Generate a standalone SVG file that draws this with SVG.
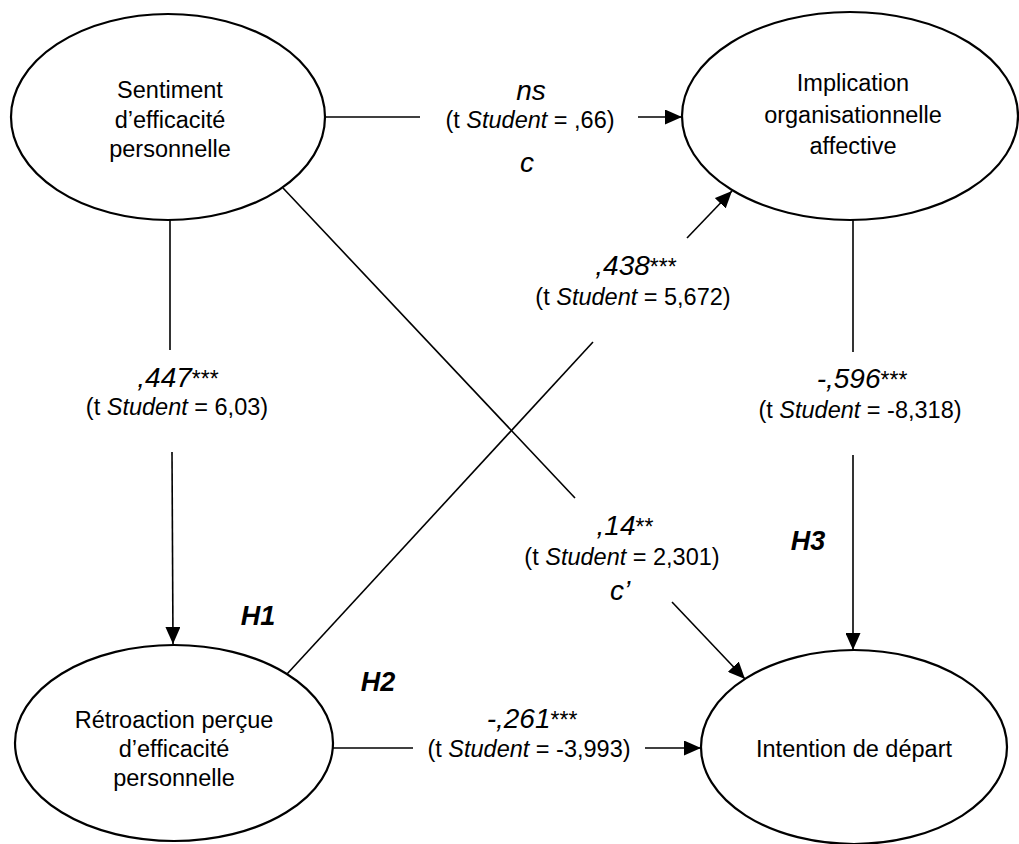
<svg xmlns="http://www.w3.org/2000/svg" width="1019" height="844" viewBox="0 0 1019 844">
<style>
.node{fill:#fff;stroke:#000;stroke-width:2.2}
.edge{fill:none;stroke:#000;stroke-width:1.6}
text{font-family:"Liberation Sans",Arial,sans-serif;fill:#000;text-anchor:middle}
.nt{font-size:23.5px}
.st{font-size:23.5px}
.val{font-size:28px;font-style:italic}
.stars{font-size:23px;font-style:normal}
.hyp{font-size:27px;font-weight:bold;font-style:italic}
</style>
<defs>
<marker id="arr" markerUnits="userSpaceOnUse" markerWidth="17" markerHeight="15" refX="17" refY="7.5" orient="auto">
<path d="M0,0 L17,7.5 L0,15 z" fill="#000"/>
</marker>
</defs>
<rect width="1019" height="844" fill="#fff"/>
<g id="connectors">
<line class="edge" x1="325" y1="117" x2="420" y2="117"/>
<line class="edge" x1="638" y1="117" x2="682" y2="117" marker-end="url(#arr)"/>
<line class="edge" x1="170" y1="220" x2="170" y2="350"/>
<line class="edge" x1="172" y1="452" x2="173" y2="644" marker-end="url(#arr)"/>
<line class="edge" x1="283" y1="188" x2="575" y2="498"/>
<line class="edge" x1="672" y1="602" x2="745" y2="679" marker-end="url(#arr)"/>
<line class="edge" x1="287" y1="674" x2="593" y2="342"/>
<line class="edge" x1="687" y1="238" x2="732" y2="191" marker-end="url(#arr)"/>
<line class="edge" x1="853" y1="220" x2="853" y2="352"/>
<line class="edge" x1="853" y1="455" x2="853" y2="650" marker-end="url(#arr)"/>
<line class="edge" x1="333" y1="748" x2="413" y2="748"/>
<line class="edge" x1="645" y1="748" x2="701" y2="748" marker-end="url(#arr)"/>
</g>
<g id="node-sentiment">
<ellipse class="node" cx="168" cy="117" rx="157" ry="103"/>
<text class="nt" x="170" y="98">Sentiment</text>
<text class="nt" x="170" y="128">d’efficacité</text>
<text class="nt" x="170" y="157">personnelle</text>
</g>
<g id="node-implication">
<ellipse class="node" cx="850" cy="116" rx="168" ry="104"/>
<text class="nt" x="853" y="91">Implication</text>
<text class="nt" x="853" y="123">organisationnelle</text>
<text class="nt" x="853" y="154">affective</text>
</g>
<g id="node-retroaction">
<ellipse class="node" cx="174" cy="743" rx="159" ry="98"/>
<text class="nt" x="174" y="728">Rétroaction perçue</text>
<text class="nt" x="174" y="757">d’efficacité</text>
<text class="nt" x="174" y="786">personnelle</text>
</g>
<g id="node-intention">
<ellipse class="node" cx="854" cy="747" rx="153" ry="97"/>
<text class="nt" x="854" y="757">Intention de départ</text>
</g>
<g id="labels">
<text class="val" x="531" y="100">ns</text>
<text class="st" x="530" y="128">(t <tspan font-style="italic">Student</tspan> = ,66)</text>
<text class="val" x="527" y="172">c</text>
<text class="val" x="636" y="275">,438<tspan class="stars">***</tspan></text>
<text class="st" x="633" y="305">(t <tspan font-style="italic">Student</tspan> = 5,672)</text>
<text class="val" x="178" y="387">,447<tspan class="stars">***</tspan></text>
<text class="st" x="177" y="415">(t <tspan font-style="italic">Student</tspan> = 6,03)</text>
<text class="val" x="862" y="388">-,596<tspan class="stars">***</tspan></text>
<text class="st" x="860" y="418">(t <tspan font-style="italic">Student</tspan> = -8,318)</text>
<text class="val" x="625" y="535">,14<tspan class="stars">**</tspan></text>
<text class="st" x="622" y="565">(t <tspan font-style="italic">Student</tspan> = 2,301)</text>
<text class="val" x="620" y="600">c’</text>
<text class="val" x="532" y="728">-,261<tspan class="stars">***</tspan></text>
<text class="st" x="529" y="757">(t <tspan font-style="italic">Student</tspan> = -3,993)</text>
<text class="hyp" x="258" y="625">H1</text>
<text class="hyp" x="378" y="691">H2</text>
<text class="hyp" x="808" y="550">H3</text>
</g>
</svg>
